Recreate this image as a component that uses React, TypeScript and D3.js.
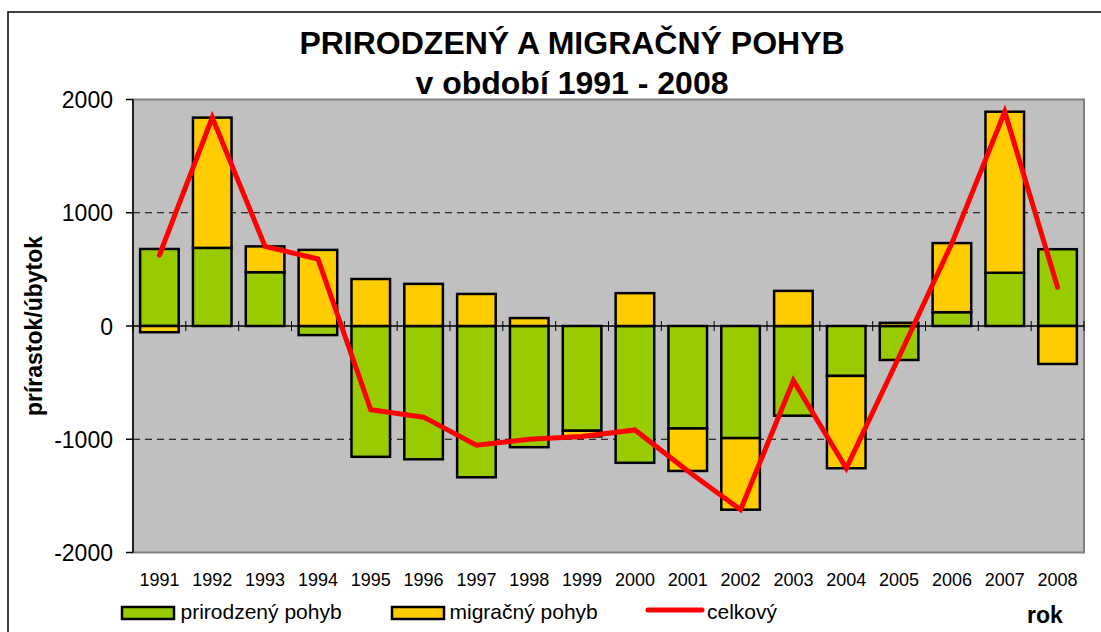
import React from "react";
import * as d3 from "d3";

const years = ["1991","1992","1993","1994","1995","1996","1997","1998","1999","2000","2001","2002","2003","2004","2005","2006","2007","2008"];
const natural = [680, 690, 475, -80, -1155, -1177, -1336, -1070, -925, -1208, -905, -990, -792, -441, -300, 122, 470, 678];
const migration = [-55, 1150, 228, 672, 415, 372, 283, 70, -50, 290, -375, -632, 310, -815, 28, 610, 1422, -335];
const total = [625, 1840, 703, 592, -740, -805, -1053, -1000, -975, -918, -1280, -1622, -482, -1256, -272, 732, 1892, 343];
const yTicks = [-2000, -1000, 0, 1000, 2000];
const gridValues = [-1000, 1000];
const seriesNames = ["prirodzený pohyb", "migračný pohyb", "celkový"];

const W = 1101, H = 632;
const PL = 133, PR = 1084, PT = 99.5, PB = 552.5;
const GREEN = "#99CC00", YELLOW = "#FFCC00", RED = "#FF0000", PLOTBG = "#C0C0C0";
const FONT = "'Liberation Sans', Arial, sans-serif";

export default function App() {
  const x = d3.scaleBand<string>().domain(years).range([PL, PR]).paddingInner(0).paddingOuter(0);
  const y = d3.scaleLinear().domain([-2000, 2000]).range([PB, PT]);
  const bw = x.bandwidth() * 0.73;

  const rows = years.map((yr, i) => ({ year: yr, nat: natural[i], mig: migration[i] }));
  const stacked = d3.stack<any>().keys(["nat", "mig"]).offset(d3.stackOffsetDiverging)(rows);
  const colors = [GREEN, YELLOW];

  const line = d3.line<number>()
    .x((_, i) => (x(years[i]) as number) + x.bandwidth() / 2)
    .y((d) => y(d));

  const boundaries = d3.range(years.length + 1).map((i) => PL + i * x.step());

  return (
    <svg width={W} height={H} style={{ position: "absolute", left: 0, top: 0, background: "#fff" }} fontFamily={FONT}>
      <rect x={0} y={0} width={W} height={H} fill="#fff" />
      {/* outer border */}
      <rect x={8} y={12} width={1120} height={700} fill="none" stroke="#000" strokeWidth={1.5} />
      {/* title */}
      <text x={572} y={54} textAnchor="middle" fontSize={32} fontWeight="bold">PRIRODZENÝ A MIGRAČNÝ POHYB</text>
      <text x={572} y={94} textAnchor="middle" fontSize={32} fontWeight="bold">v období 1991 - 2008</text>
      {/* plot area */}
      <rect x={PL} y={PT} width={PR - PL} height={PB - PT} fill={PLOTBG} stroke="#808080" strokeWidth={2} />
      {gridValues.map((v) => (
        <line key={v} x1={PL} x2={PR} y1={y(v)} y2={y(v)} stroke="#000" strokeWidth={1} strokeDasharray="7,5" />
      ))}
      {/* bars */}
      {stacked.map((s, si) => (
        <g key={si}>
          {s.map((d, i) => {
            const y0 = y(d[0]), y1 = y(d[1]);
            const cx = (x(years[i]) as number) + x.bandwidth() / 2;
            return (
              <rect key={i} x={cx - bw / 2} y={Math.min(y0, y1)} width={bw} height={Math.abs(y1 - y0)}
                fill={colors[si]} stroke="#000" strokeWidth={2.5} />
            );
          })}
        </g>
      ))}
      {/* zero axis */}
      <line x1={PL} x2={PR} y1={y(0)} y2={y(0)} stroke="#000" strokeWidth={1.5} />
      {boundaries.map((bx, i) => (
        <line key={i} x1={bx} x2={bx} y1={y(0) - 5} y2={y(0) + 5} stroke="#000" strokeWidth={1} />
      ))}
      {/* total line */}
      <path d={line(total) || ""} fill="none" stroke={RED} strokeWidth={5} strokeLinecap="round" strokeLinejoin="miter" />
      {/* y axis */}
      <line x1={PL} x2={PL} y1={PT} y2={PB} stroke="#000" strokeWidth={1.5} />
      {yTicks.map((t) => (
        <g key={t}>
          <line x1={PL - 7} x2={PL} y1={y(t)} y2={y(t)} stroke="#000" strokeWidth={1.5} />
          <text x={113} y={y(t)} dy="0.37em" textAnchor="end" fontSize={23}>{t}</text>
        </g>
      ))}
      {/* x labels */}
      {years.map((yr) => (
        <text key={yr} x={(x(yr) as number) + x.bandwidth() / 2} y={586} textAnchor="middle" fontSize={18}>{yr}</text>
      ))}
      {/* axis titles */}
      <text transform={`translate(41.5, ${(PT + PB) / 2}) rotate(-90)`} textAnchor="middle" fontSize={23} fontWeight="bold">prírastok/úbytok</text>
      <text x={1027} y={623} fontSize={23} fontWeight="bold">rok</text>
      {/* legend */}
      <rect x={122} y={607} width={52} height={12} fill={GREEN} stroke="#000" strokeWidth={2.5} />
      <text x={180.5} y={619} fontSize={21}>{seriesNames[0]}</text>
      <rect x={392} y={607} width={52} height={12} fill={YELLOW} stroke="#000" strokeWidth={2.5} />
      <text x={449.5} y={619} fontSize={21}>{seriesNames[1]}</text>
      <line x1={648} x2={702} y1={610} y2={610} stroke={RED} strokeWidth={5} strokeLinecap="round" />
      <text x={707} y={619} fontSize={21}>{seriesNames[2]}</text>
    </svg>
  );
}
